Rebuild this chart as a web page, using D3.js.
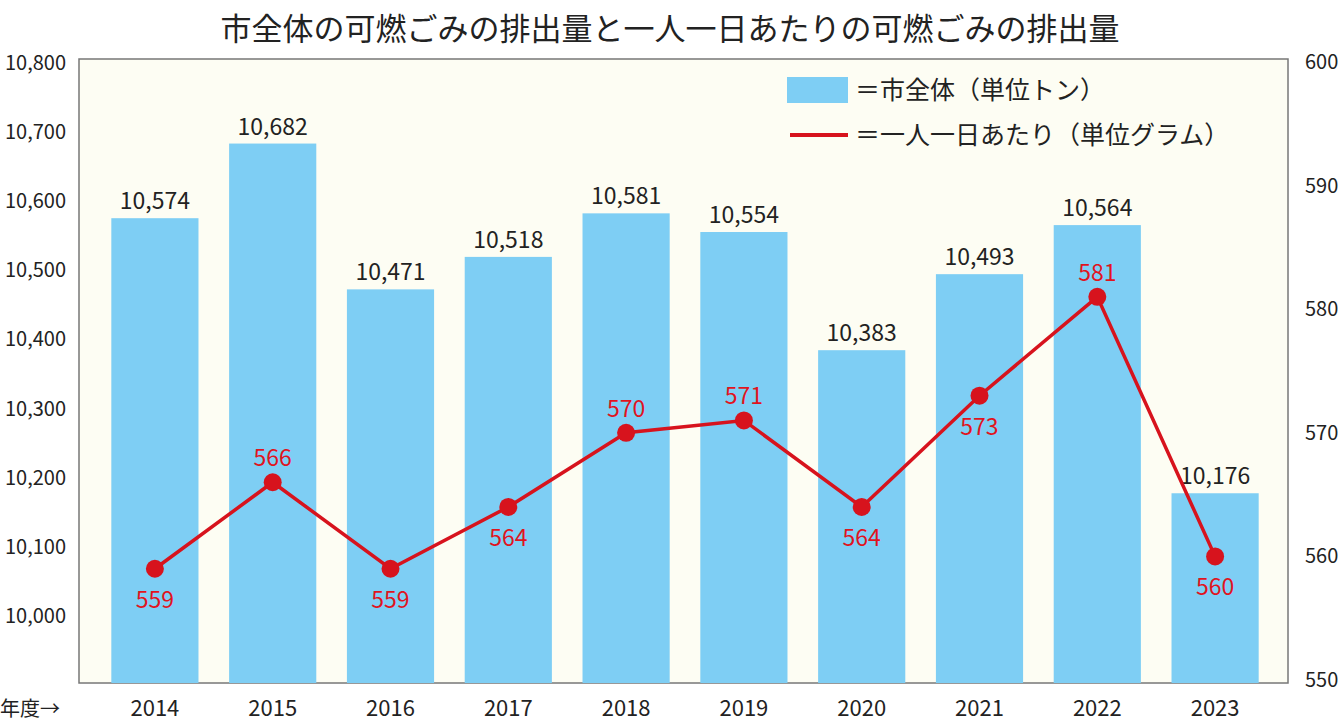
<!DOCTYPE html><html><head><meta charset="utf-8"><script src="https://cdn.jsdelivr.net/npm/d3@7"></script>
<style>body{margin:0;background:#fff}text{font-family:"Noto Sans CJK JP",sans-serif}</style></head><body><svg id="c" width="1341" height="726"></svg>
<script>
const years=["2014","2015","2016","2017","2018","2019","2020","2021","2022","2023"];
const totals=[10574,10682,10471,10518,10581,10554,10383,10493,10564,10176];
const perPerson=[559,566,559,564,570,571,564,573,581,560];
const leftTicks=[10000,10100,10200,10300,10400,10500,10600,10700,10800];
const rightTicks=[550,560,570,580,590,600];
const svg=d3.select("#c");
const L=79,R=1288,T=59,B=683;
svg.append("rect").attr("x",L).attr("y",T).attr("width",R-L).attr("height",B-T).attr("fill","#fdfdf3").attr("stroke","#777").attr("stroke-width",1.5);
const x=d3.scaleBand().domain(years).range([96,1274]).paddingInner(0.26).paddingOuter(0.13);
const y=d3.scaleLinear().domain([9900,10800]).range([684,62]);
const y2=d3.scaleLinear().domain([550,600]).range([680,62]);
svg.selectAll(".bar").data(years).join("rect").attr("x",d=>x(d)).attr("width",x.bandwidth())
 .attr("y",(d,i)=>y(totals[i])).attr("height",(d,i)=>B-y(totals[i])).attr("fill","#7ecef4");
svg.selectAll(".bl").data(years).join("text").attr("x",d=>x(d)+x.bandwidth()/2).attr("y",(d,i)=>y(totals[i])-9)
 .attr("text-anchor","middle").attr("font-size",23).attr("fill","#222").text((d,i)=>d3.format(",")(totals[i]));
const line=d3.line().x((d,i)=>x(years[i])+x.bandwidth()/2).y(d=>y2(d));
svg.append("path").attr("d",line(perPerson)).attr("fill","none").attr("stroke","#d7131d").attr("stroke-width",3.5);
svg.selectAll(".pt").data(perPerson).join("circle").attr("cx",(d,i)=>x(years[i])+x.bandwidth()/2).attr("cy",d=>y2(d)).attr("r",9).attr("fill","#d7131d");
const above=[false,true,false,false,true,true,false,false,true,false];
svg.selectAll(".pl").data(perPerson).join("text").attr("x",(d,i)=>x(years[i])+x.bandwidth()/2)
 .attr("y",(d,i)=>above[i]?y2(d)-16:y2(d)+39).attr("text-anchor","middle").attr("font-size",23).attr("fill","#e0141e").text(d=>d);
svg.selectAll(".lt").data(leftTicks).join("text").attr("x",66).attr("y",d=>y(d)+8).attr("text-anchor","end").attr("font-size",20).attr("fill","#222").text(d=>d3.format(",")(d));
svg.selectAll(".rt").data(rightTicks).join("text").attr("x",1305).attr("y",d=>y2(d)+7).attr("font-size",20).attr("fill","#222").text(d=>d);
svg.selectAll(".xt").data(years).join("text").attr("x",d=>x(d)+x.bandwidth()/2).attr("y",716).attr("text-anchor","middle").attr("font-size",22).attr("fill","#222").text(d=>d);
svg.append("text").attr("x",0).attr("y",716).attr("font-size",20).attr("fill","#222").text("年度→");
svg.append("text").attr("x",670).attr("y",40).attr("text-anchor","middle").attr("font-size",31).attr("fill","#222").text("市全体の可燃ごみの排出量と一人一日あたりの可燃ごみの排出量");
svg.append("rect").attr("x",787).attr("y",77).attr("width",61).attr("height",26).attr("fill","#7ecef4");
svg.append("text").attr("x",855).attr("y",99).attr("font-size",25).attr("fill","#222").text("＝市全体（単位トン）");
svg.append("line").attr("x1",790).attr("x2",848).attr("y1",135).attr("y2",135).attr("stroke","#d7131d").attr("stroke-width",4);
svg.append("text").attr("x",855).attr("y",144).attr("font-size",25).attr("fill","#222").text("＝一人一日あたり（単位グラム）");
</script></body></html>
